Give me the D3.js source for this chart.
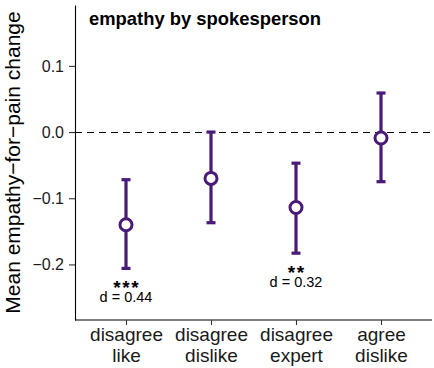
<!DOCTYPE html>
<html>
<head>
<meta charset="utf-8">
<script src="https://cdn.jsdelivr.net/npm/d3@7"></script>
<style>
  body { margin: 0; background: #fff; }
  svg { font-family: "Liberation Sans", Arial, Helvetica, sans-serif; }
</style>
</head>
<body>
<div id="chart"></div>
<script>
// data
const categories = ['disagree\nlike', 'disagree\ndislike', 'disagree\nexpert', 'agree\ndislike'];
const means = [-0.140, -0.070, -0.114, -0.009];
const ciLow = [-0.206, -0.137, -0.183, -0.075];
const ciHigh = [-0.072, 0.000, -0.047, 0.059];
const stars = ['***', '', '**', ''];
const effects = ['d = 0.44', '', 'd = 0.32', ''];
const yTicks = [-0.2, -0.1, 0.0, 0.1];

const width = 434, height = 368;
const margin = { top: 5, right: 2, bottom: 48, left: 75 };
const innerW = width - margin.left - margin.right;
const innerH = height - margin.top - margin.bottom;
const purple = '#4a1a78';

const svg = d3.select('#chart').append('svg')
  .attr('width', width)
  .attr('height', height);

const g = svg.append('g')
  .attr('transform', `translate(${margin.left},${margin.top})`);

const x = d3.scalePoint().domain(categories).range([0, innerW]).padding(0.6);
const y = d3.scaleLinear().domain([-0.284, 0.192]).range([innerH, 0]);

// axes
const yAxis = g.append('g').call(d3.axisLeft(y).tickValues(yTicks)
  .tickSize(6).tickPadding(5).tickSizeOuter(0));
yAxis.select('.domain').attr('stroke', '#000').attr('stroke-width', 1.1);
yAxis.selectAll('.tick line').attr('stroke', '#333').attr('stroke-width', 1.1);
yAxis.selectAll('.tick text').attr('font-size', 16).attr('fill', '#1a1a1a')
  .text(d => d3.format('.1f')(d).replace('-', '\u2212'));

const xAxis = g.append('g').attr('transform', `translate(0,${innerH})`)
  .call(d3.axisBottom(x).tickSize(5).tickSizeOuter(0).tickFormat(''));
xAxis.select('.domain').attr('stroke', '#000').attr('stroke-width', 1.1)
  .attr('d', `M0,0H${innerW}`);
xAxis.selectAll('.tick line').attr('stroke', '#333').attr('stroke-width', 1.1);
xAxis.selectAll('.tick').each(function (d) {
  const t = d3.select(this).append('text')
    .attr('fill', '#1a1a1a')
    .attr('font-size', 19)
    .attr('text-anchor', 'middle');
  d.split('\n').forEach((line, i) => {
    t.append('tspan').attr('x', 0).attr('y', 21 + i * 21).text(line);
  });
});

// zero line
g.append('line')
  .attr('x1', 0).attr('x2', innerW)
  .attr('y1', Math.round(y(0)) + 0.5).attr('y2', Math.round(y(0)) + 0.5)
  .attr('stroke', '#000')
  .attr('stroke-width', 1.1)
  .attr('stroke-dasharray', '7,5');

// error bars
const idx = d3.range(categories.length);
const cap = 4.5;
const bars = g.append('g').selectAll('g').data(idx).join('g')
  .attr('stroke', purple).attr('stroke-width', 3.2);
bars.append('line')
  .attr('x1', i => x(categories[i])).attr('x2', i => x(categories[i]))
  .attr('y1', i => y(ciLow[i])).attr('y2', i => y(ciHigh[i]));
bars.append('line')
  .attr('x1', i => x(categories[i]) - cap).attr('x2', i => x(categories[i]) + cap)
  .attr('y1', i => y(ciLow[i])).attr('y2', i => y(ciLow[i]));
bars.append('line')
  .attr('x1', i => x(categories[i]) - cap).attr('x2', i => x(categories[i]) + cap)
  .attr('y1', i => y(ciHigh[i])).attr('y2', i => y(ciHigh[i]));

g.append('g').selectAll('circle').data(idx).join('circle')
  .attr('cx', i => x(categories[i]))
  .attr('cy', i => y(means[i]))
  .attr('r', 6)
  .attr('fill', '#fff')
  .attr('stroke', purple)
  .attr('stroke-width', 3);

// significance labels
g.append('g').selectAll('text').data(idx.filter(i => stars[i])).join('text')
  .attr('x', i => x(categories[i]) + 0.8)
  .attr('y', i => y(ciLow[i]) + 26)
  .attr('text-anchor', 'middle')
  .attr('font-size', 19)
  .attr('font-weight', 'bold')
  .attr('letter-spacing', 1.6)
  .attr('fill', '#000')
  .text(i => stars[i]);

g.append('g').selectAll('text').data(idx.filter(i => effects[i])).join('text')
  .attr('x', i => x(categories[i]))
  .attr('y', i => y(ciLow[i]) + 34)
  .attr('text-anchor', 'middle')
  .attr('font-size', 14.5)
  .attr('fill', '#000')
  .text(i => effects[i]);

// title
g.append('text')
  .attr('x', 14).attr('y', 20)
  .attr('font-size', 18.4)
  .attr('font-weight', 'bold')
  .attr('fill', '#000')
  .text('empathy by spokesperson');

// y label
svg.append('text')
  .attr('transform', `translate(20,${margin.top + innerH / 2}) rotate(-90)`)
  .attr('text-anchor', 'middle')
  .attr('font-size', 21)
  .attr('fill', '#000')
  .text('Mean empathy\u2212for\u2212pain change');
</script>
</body>
</html>
